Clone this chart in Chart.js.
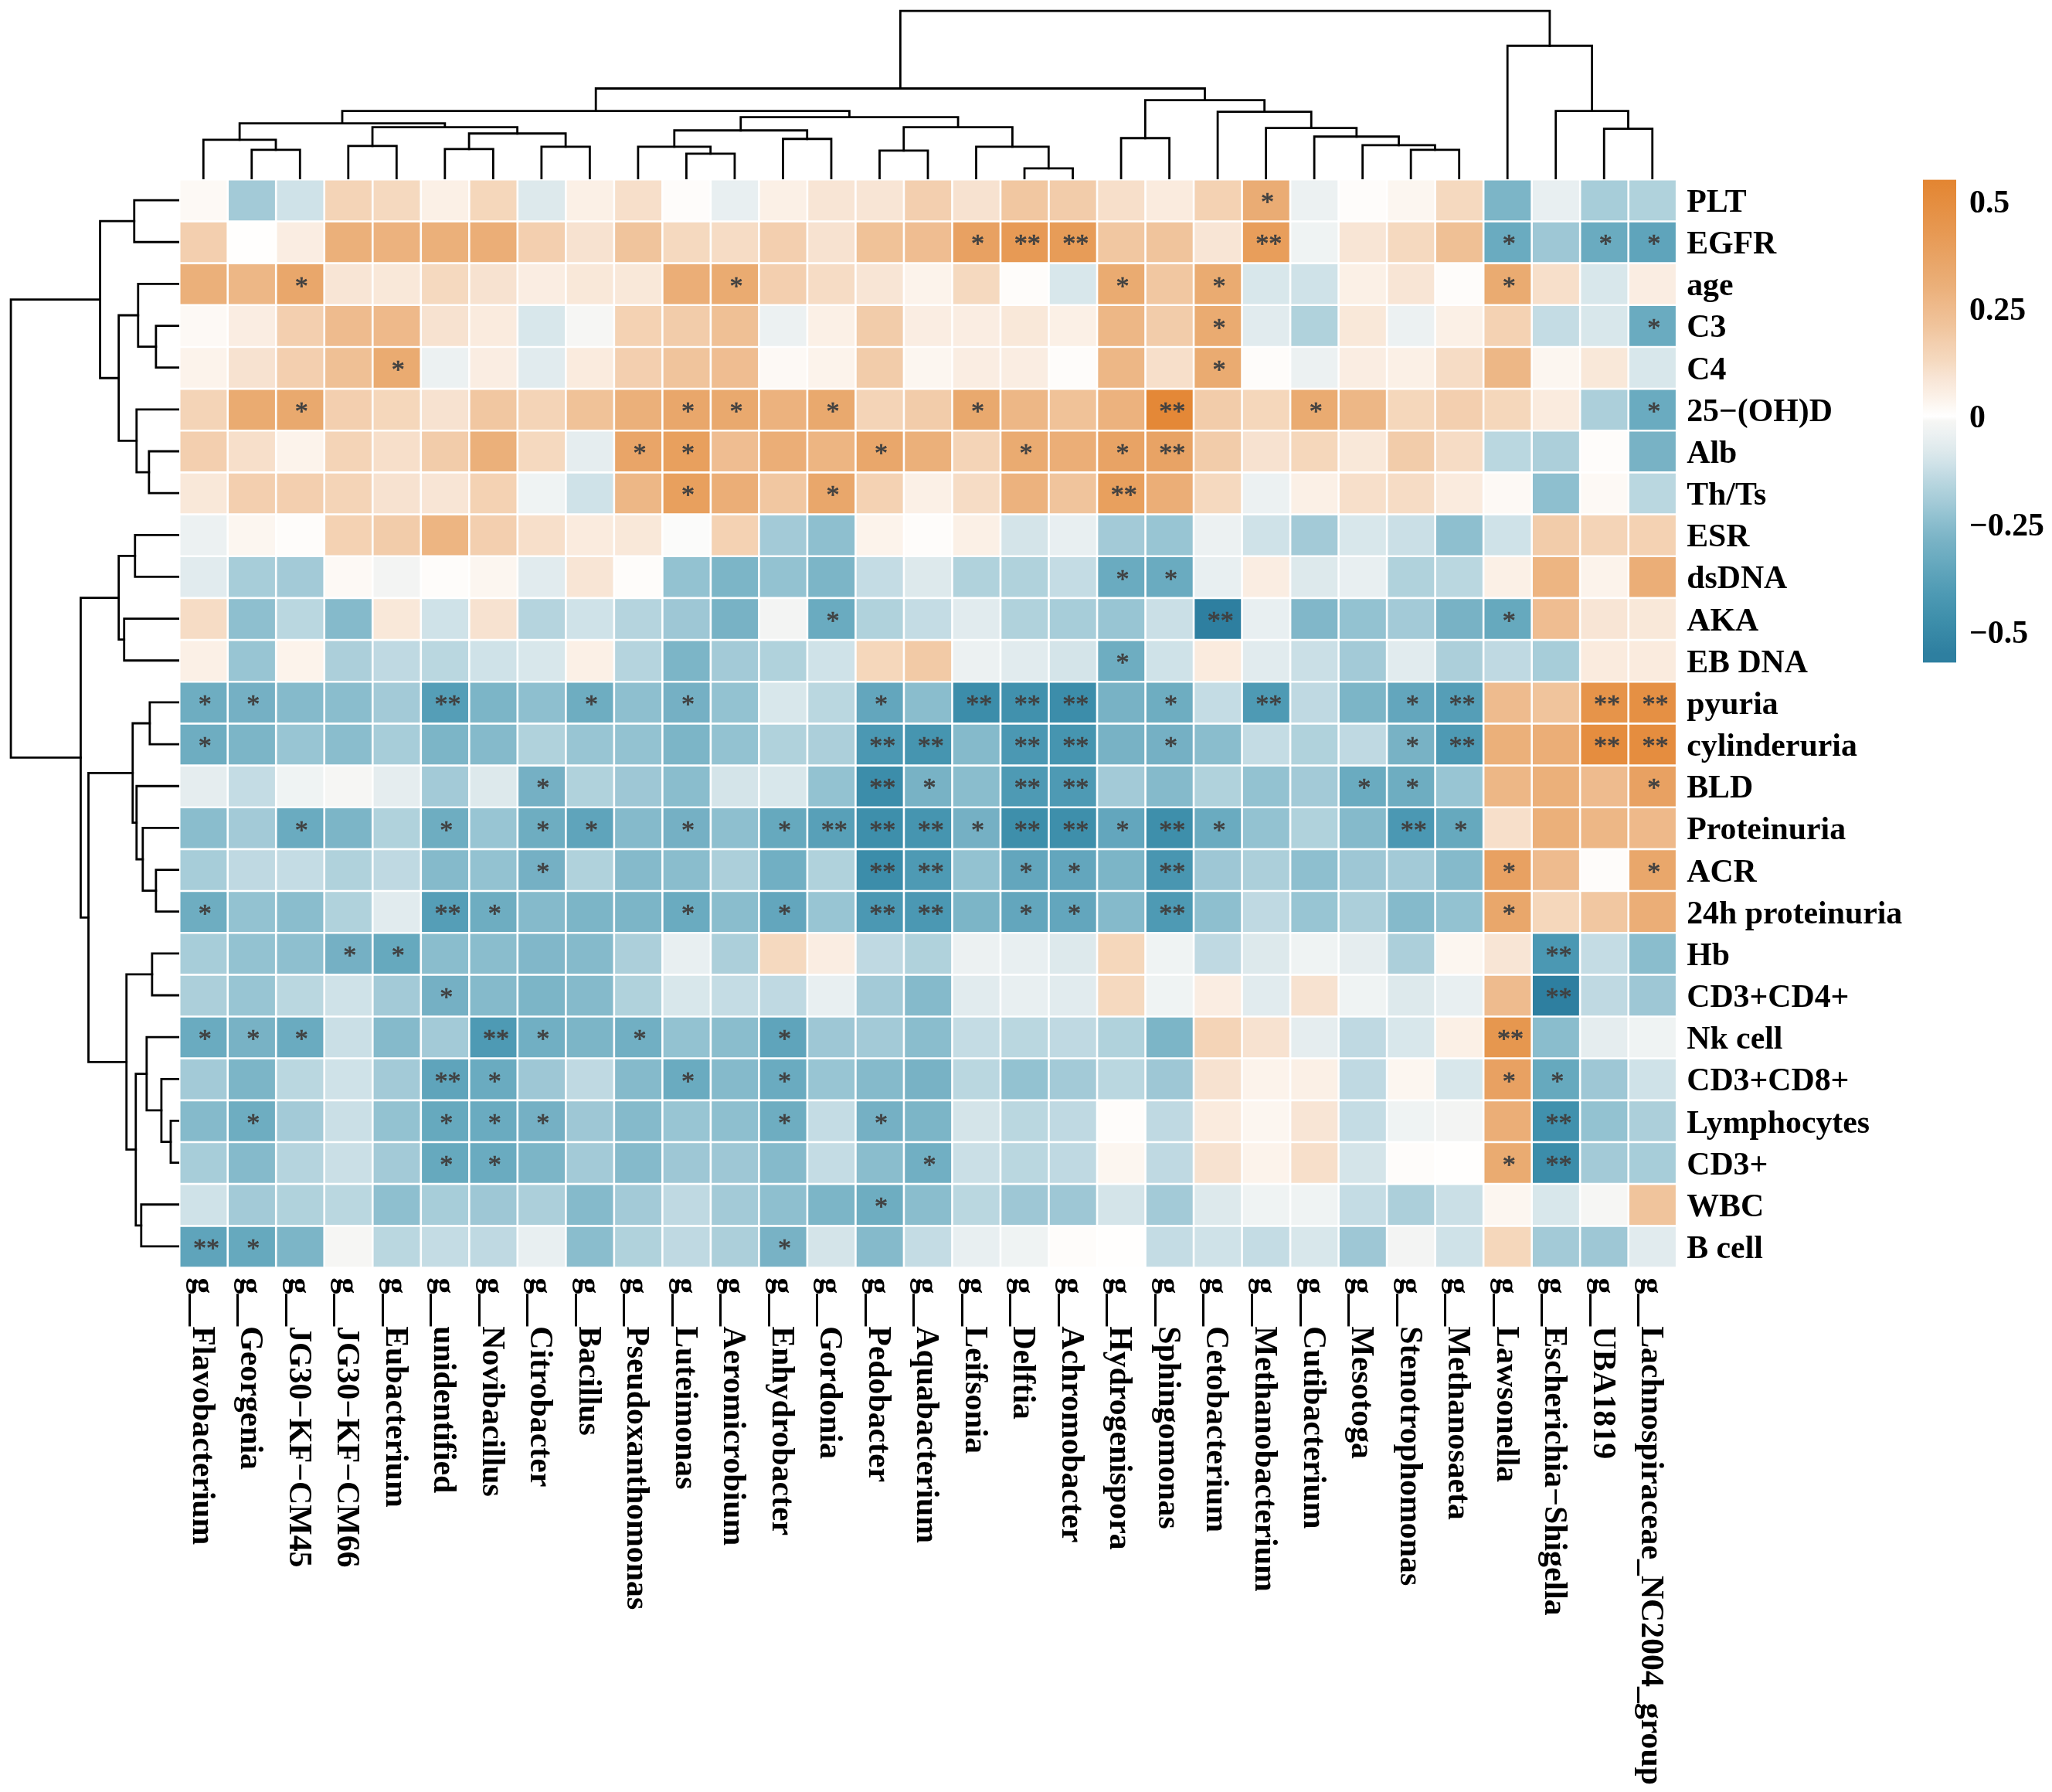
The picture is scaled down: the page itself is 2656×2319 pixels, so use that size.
<!DOCTYPE html>
<html>
<head>
<meta charset="utf-8">
<script src="https://cdn.jsdelivr.net/npm/chart.js@4"></script>
<style>
html,body{margin:0;padding:0;background:#fff;width:2656px;height:2319px;overflow:hidden}
canvas{position:absolute;display:block}
</style>
</head>
<body>
<canvas id="heat" width="2656" height="2319" style="left:0;top:0;width:2656px;height:2319px"></canvas>
<canvas id="dendTop" width="1938" height="232" style="left:232px;top:0;width:1938px;height:232px"></canvas>
<canvas id="dendLeft" width="232" height="1408" style="left:0;top:232px;width:232px;height:1408px"></canvas>
<canvas id="scaleBar" width="167" height="710" style="left:2489px;top:190px;width:167px;height:710px"></canvas>
<script>
const columnLabels = ["g__Flavobacterium","g__Georgenia","g__JG30−KF−CM45","g__JG30−KF−CM66","g__Eubacterium","g__unidentified","g__Novibacillus","g__Citrobacter","g__Bacillus","g__Pseudoxanthomonas","g__Luteimonas","g__Aeromicrobium","g__Enhydrobacter","g__Gordonia","g__Pedobacter","g__Aquabacterium","g__Leifsonia","g__Delftia","g__Achromobacter","g__Hydrogenispora","g__Sphingomonas","g__Cetobacterium","g__Methanobacterium","g__Cutibacterium","g__Mesotoga","g__Stenotrophomonas","g__Methanosaeta","g__Lawsonella","g__Escherichia−Shigella","g__UBA1819","g__Lachnospiraceae_NC2004_group"];
const rowLabels = ["PLT","EGFR","age","C3","C4","25−(OH)D","Alb","Th/Ts","ESR","dsDNA","AKA","EB DNA","pyuria","cylinderuria","BLD","Proteinuria","ACR","24h proteinuria","Hb","CD3+CD4+","Nk cell","CD3+CD8+","Lymphocytes","CD3+","WBC","B cell"];

// correlation x 100, one line per row
const heatValues = [
[2,-20,-11,15,13,5,14,-8,5,11,1,-5,5,9,9,17,10,20,18,11,7,16,32,-4,1,3,13,-28,-5,-19,-17],
[17,0.5,6,30,29,30,31,17,10,21,13,12,17,10,22,24,38,42,41,20,21,9,40,-3,9,13,23,-33,-21,-33,-36],
[30,27,35,9,8,13,10,6,8,8,31,33,17,12,9,4,13,1,-9,33,20,33,-9,-11,5,9,1,33,11,-9,6],
[2,6,17,25,26,10,7,-9,-1,16,18,23,-4,5,18,6,6,8,5,27,18,33,-7,-17,8,-4,5,16,-13,-9,-33],
[4,10,17,23,33,-4,6,-7,7,17,21,24,2,4,18,3,6,6,1,27,11,33,1,-4,6,5,12,27,3,8,-9],
[15,33,34,17,14,10,20,15,22,30,35,34,29,34,15,18,34,27,22,29,53,18,14,33,27,14,17,14,7,-18,-33],
[17,11,4,15,11,18,30,13,-6,36,39,24,31,28,35,30,15,33,31,37,37,18,10,14,8,18,12,-15,-18,1,-29],
[8,17,17,15,10,9,16,-3,-11,27,39,31,20,35,16,5,12,29,21,39,31,13,-4,5,11,12,7,2,-24,2,-15],
[-4,3,1,16,18,28,17,11,7,8,-0.5,16,-20,-24,4,1,5,-10,-5,-20,-22,-4,-11,-20,-9,-12,-24,-11,18,15,16],
[-7,-19,-20,2,-2,1,3,-7,9,1,-23,-28,-23,-28,-13,-8,-17,-17,-13,-33,-33,-5,6,-8,-5,-17,-15,5,28,4,31],
[12,-24,-15,-26,8,-11,10,-16,-11,-16,-21,-29,-2,-33,-17,-13,-7,-17,-19,-22,-12,-55,-5,-27,-23,-20,-29,-34,24,9,8],
[5,-22,4,-18,-14,-15,-11,-9,5,-16,-28,-20,-17,-11,14,19,-4,-7,-10,-32,-11,7,-7,-12,-20,-7,-18,-14,-19,7,7],
[-32,-30,-26,-25,-20,-39,-28,-24,-32,-24,-30,-23,-9,-15,-35,-25,-48,-46,-48,-29,-32,-13,-41,-14,-28,-35,-39,25,21,46,48],
[-32,-28,-22,-25,-19,-28,-26,-17,-22,-23,-28,-23,-17,-18,-42,-44,-26,-42,-44,-29,-30,-25,-13,-17,-14,-29,-41,30,31,50,50],
[-6,-13,-3,-1,-6,-20,-8,-30,-17,-21,-25,-10,-9,-23,-48,-29,-25,-41,-41,-20,-26,-17,-23,-20,-33,-32,-22,27,30,25,38],
[-25,-20,-33,-28,-17,-32,-22,-32,-36,-26,-30,-24,-34,-38,-47,-44,-30,-47,-47,-35,-47,-33,-23,-17,-26,-42,-34,11,30,27,26],
[-19,-14,-13,-17,-14,-26,-23,-30,-17,-26,-25,-18,-31,-17,-48,-41,-23,-35,-35,-28,-43,-21,-18,-24,-21,-20,-26,38,25,1,35],
[-32,-23,-25,-17,-7,-39,-32,-26,-28,-28,-33,-25,-35,-22,-42,-42,-28,-35,-35,-26,-41,-24,-14,-22,-18,-26,-23,35,14,20,31],
[-19,-23,-24,-30,-34,-25,-25,-27,-26,-18,-5,-18,13,6,-14,-17,-4,-5,-8,14,-3,-14,-8,-3,-6,-18,3,9,-42,-13,-25],
[-18,-22,-15,-11,-20,-30,-26,-28,-26,-17,-9,-13,-14,-5,-20,-26,-7,-5,-7,13,-3,6,-7,10,-3,-8,-5,25,-55,-14,-21],
[-33,-29,-33,-12,-26,-20,-41,-31,-28,-31,-23,-25,-36,-21,-20,-25,-13,-15,-14,-17,-28,15,10,-6,-14,-9,5,44,-25,-6,-3],
[-20,-28,-15,-11,-20,-36,-33,-21,-14,-26,-33,-26,-33,-22,-26,-29,-15,-23,-20,-15,-21,10,4,5,-14,3,-9,38,-34,-21,-11],
[-26,-32,-20,-12,-23,-34,-33,-30,-21,-26,-22,-24,-32,-13,-30,-28,-10,-15,-14,1,-14,7,3,9,-13,-3,-2,31,-46,-23,-18],
[-19,-26,-16,-12,-20,-34,-33,-28,-20,-26,-21,-21,-26,-13,-25,-31,-12,-15,-14,3,-14,10,4,11,-10,1,0.5,33,-48,-20,-19],
[-11,-20,-17,-15,-24,-19,-21,-18,-26,-20,-14,-20,-24,-28,-32,-25,-15,-21,-21,-10,-20,-8,-3,-3,-13,-18,-12,3,-9,-1,21],
[-36,-34,-28,-1,-15,-13,-14,-5,-25,-17,-14,-18,-29,-10,-26,-13,-5,-3,1,0.5,-13,-11,-13,-9,-21,-2,-11,14,-20,-21,-7]
];

// significance marks: column indexes per row
const oneStar = [[22],[16,27,29,30],[2,11,19,21,27],[21,30],[4,21],[2,10,11,13,16,23,30],[9,10,14,17,19],[10,13],[],[19,20],[13,27],[19],[0,1,8,10,14,20,25],[0,20,25],[7,15,24,25,30],[2,5,7,8,10,12,16,19,21,26],[7,17,18,27,30],[0,6,10,12,17,18,27],[3,4],[5],[0,1,2,7,9,12],[6,10,12,27,28],[1,5,6,7,12,14],[5,6,15,27],[14],[1,12]];
const twoStars = [[],[17,18,22],[],[],[],[20],[20],[19],[],[],[21],[],[5,16,17,18,22,26,29,30],[14,15,17,18,26,29,30],[14,17,18],[13,14,15,17,18,20,25],[14,15,20],[5,14,15,20],[28],[28],[6,27],[5],[28],[28],[],[0]];

// dendrogram merges: [left, right, height]; numbers from 100 are earlier merges
const topMerges = [[1,2,38],[0,100,51],[3,4,43],[5,6,39],[7,8,42],[103,104,59],[102,105,67],[101,106,72],[10,11,33],[9,108,42],[12,13,52],[109,110,63],[14,15,37],[17,18,14],[16,113,42],[112,114,67],[111,115,80],[107,116,88],[19,20,53],[25,26,38],[24,119,44],[23,120,55],[22,121,66],[21,122,87],[118,123,102],[117,124,117],[29,30,65],[28,126,88],[27,127,172],[125,128,217]];
const leftMerges = [[0,1,58],[3,4,30],[2,101,53],[6,7,39],[5,103,55],[102,104,78],[100,105,102],[8,9,57],[10,11,71],[107,108,78],[12,13,38],[16,17,30],[15,111,47],[14,112,55],[110,113,60],[18,19,35],[22,23,11],[21,116,23],[20,117,42],[24,25,49],[118,119,56],[115,120,68],[114,121,117],[109,122,127],[106,123,217]];

// colour key: value x 100 and its colour
const colourValues = [-57,-55,-47,-41,-36,-33,-29,-26,-23,-20,-17,-14,-11,-8,-4,-1,0,2,5,9,13,17,21,26,30,35,42,55];
const colourList = ["#2E7FA0","#2E7FA0","#3E8FAB","#4E9AB4","#5FA4BB","#6AABC0","#78B2C5","#85BACB","#93C2D1","#A3CAD7","#B0D2DC","#BFD9E2","#CFE2E8","#DDE9EC","#ECF1F2","#F6F6F4","#FFFFFF","#FDF9F5","#FBF0E6","#F8E5D5","#F5D9BF","#F3CFAF","#F0C49C","#EEB98A","#EBB07A","#E9A76B","#E79A55","#E38531"];
const keyTicks = [0.5,0.25,0,-0.25,-0.5];
const keyLabels = ["0.5","0.25","0","−0.25","−0.5"];
const keyRange = [-0.571,0.55];

const labelFont = {family:'"Liberation Serif"',weight:'bold',size:41.8};

function hexRgb(h){return [1,3,5].map(i=>parseInt(h.substr(i,2),16));}
function colourFor(v){
  if(v<=colourValues[0])return colourList[0];
  for(let i=1;i<colourValues.length;i++){
    if(v<=colourValues[i]){
      const t=(v-colourValues[i-1])/(colourValues[i]-colourValues[i-1]);
      const a=hexRgb(colourList[i-1]),b=hexRgb(colourList[i]);
      return 'rgb('+a.map((c,k)=>Math.round(c+(b[k]-c)*t)).join(',')+')';
    }
  }
  return colourList[colourList.length-1];
}

const starPlugin={id:'stars',afterDatasetsDraw(chart){
  const {ctx,scales:{x,y}}=chart;
  ctx.save();
  ctx.font='34px "Liberation Serif"';
  ctx.fillStyle='#404040';
  ctx.strokeStyle='#404040';
  ctx.lineWidth=0.7;
  ctx.textAlign='center';
  ctx.textBaseline='alphabetic';
  const mark=(s,px,py)=>{ctx.fillText(s,px,py);ctx.strokeText(s,px,py);};
  rowLabels.forEach((_,r)=>{
    const py=y.getPixelForValue(r+0.5)+12.8;
    oneStar[r].forEach(c=>mark('*',x.getPixelForValue(c)+1.8,py));
    twoStars[r].forEach(c=>mark('**',x.getPixelForValue(c)+3.5,py));
  });
  ctx.restore();
}};

new Chart(document.getElementById('heat'),{
  type:'bar',
  plugins:[starPlugin],
  data:{
    labels:columnLabels,
    datasets:rowLabels.map((name,r)=>({
      label:name,
      data:heatValues[r].map(()=>[r,r+1]),
      backgroundColor:heatValues[r].map(colourFor),
      borderColor:'#ffffff',
      borderWidth:1.65,
      borderSkipped:false,
      barPercentage:1,
      categoryPercentage:1,
      grouped:false
    }))
  },
  options:{
    responsive:false,animation:false,events:[],
    layout:{padding:{left:232.2,top:232.3,right:0,bottom:0}},
    plugins:{legend:{display:false},tooltip:{enabled:false},title:{display:false}},
    scales:{
      x:{
        type:'category',position:'bottom',
        grid:{display:false,drawTicks:false},border:{display:false},
        ticks:{font:labelFont,color:'#000',minRotation:-90,maxRotation:-90,autoSkip:false,padding:13,labelOffset:-3},
        afterBuildTicks(s){s._getXAxisLabelAlignment=()=>'left';},
        afterFit(s){s.height=678.5;}
      },
      y:{
        type:'linear',position:'right',reverse:true,min:0,max:rowLabels.length,
        grid:{display:false,drawTicks:false},border:{display:false},
        afterBuildTicks(s){s.ticks=rowLabels.map((_,i)=>({value:i+0.5}));},
        ticks:{font:labelFont,color:'#000',padding:13,labelOffset:3.8,autoSkip:false,callback:(v,i)=>rowLabels[i]},
        afterFit(s){s.width=485.8;}
      }
    }
  }
});

function mergeSets(merges,horizontal,leafCount){
  const pos={},ht={};
  for(let i=0;i<leafCount;i++){pos[i]=i+0.5;ht[i]=0;}
  return merges.map((m,k)=>{
    const [a,b,h]=m;
    const pts=[[pos[a],ht[a]],[pos[a],h],[pos[b],h],[pos[b],ht[b]]];
    pos[100+k]=(pos[a]+pos[b])/2;ht[100+k]=h;
    return {
      data:pts.map(p=>horizontal?{x:p[0],y:p[1]}:{x:p[1],y:p[0]}),
      showLine:true,borderColor:'#000',borderWidth:2.8,pointRadius:0,
      borderCapStyle:'square',borderJoinStyle:'miter',tension:0,clip:false,fill:false
    };
  });
}
const bare={display:false,grid:{display:false},border:{display:false}};
const bareOpts=(x,y)=>({responsive:false,animation:false,events:[],layout:{padding:0},
  plugins:{legend:{display:false},tooltip:{enabled:false}},
  scales:{x:Object.assign({type:'linear'},bare,x),y:Object.assign({type:'linear'},bare,y)}});

new Chart(document.getElementById('dendTop'),{
  type:'scatter',
  data:{datasets:mergeSets(topMerges,true,columnLabels.length)},
  options:bareOpts({min:0,max:columnLabels.length},{min:0,max:231})
});
new Chart(document.getElementById('dendLeft'),{
  type:'scatter',
  data:{datasets:mergeSets(leftMerges,false,rowLabels.length)},
  options:bareOpts({min:0,max:231,reverse:true},{min:0,max:rowLabels.length,reverse:true})
});

new Chart(document.getElementById('scaleBar'),{
  type:'bar',
  data:{labels:[''],datasets:[{
    data:[keyRange],
    barPercentage:1,categoryPercentage:1,borderWidth:0,
    backgroundColor(ctx){
      const c=ctx.chart,a=c.chartArea;
      if(!a)return '#fff';
      const g=c.ctx.createLinearGradient(0,a.bottom,0,a.top);
      const lo=keyRange[0]*100,hi=keyRange[1]*100;
      colourValues.forEach((v,i)=>{const t=(v-lo)/(hi-lo);if(t>=0&&t<=1)g.addColorStop(t,colourList[i]);});
      return g;
    }
  }]},
  options:{
    responsive:false,animation:false,events:[],
    layout:{padding:{top:42.5,bottom:42.6,left:0,right:0}},
    plugins:{legend:{display:false},tooltip:{enabled:false}},
    scales:{
      x:{display:false,grid:{display:false}},
      y:{
        type:'linear',position:'right',min:keyRange[0],max:keyRange[1],
        grid:{display:false,drawTicks:false},border:{display:false},
        afterBuildTicks(s){s.ticks=keyTicks.map(v=>({value:v}));},
        ticks:{font:labelFont,color:'#000',padding:17,labelOffset:3.4,autoSkip:false,callback:(v,i)=>keyLabels[i]},
        afterFit(s){s.width=124;}
      }
    }
  }
});
</script>
</body>
</html>
